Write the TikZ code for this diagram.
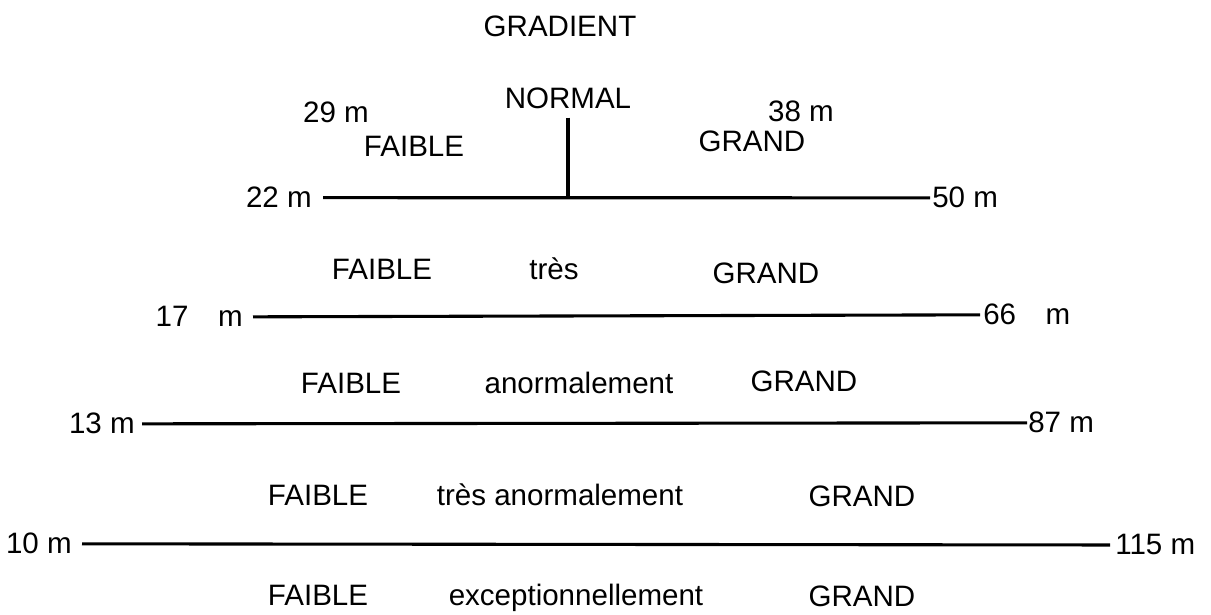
\documentclass[tikz,border=0pt]{standalone}
\usepackage{fontspec}
\setmainfont{Liberation Sans}
\usepackage{tikz}
\usetikzlibrary{positioning}
\usetikzlibrary{calc}
\tikzstyle{word} = [inner sep=0pt, font=\fontsize{21}{25}\selectfont]
\tikzstyle{word_l} = [word, anchor=base east]
\tikzstyle{word_r} = [word, anchor=base west]
\tikzstyle{bar} = [line width=2.2pt]

\begin{document}
\begin{tikzpicture}[x=0.025cm,y=-0.025cm]
    \useasboundingbox (0,0) rectangle (1211,615);
    % titre et gradient normal
    \node [word, anchor=base] (grad) at (560,37) {GRADIENT};
    \node [word, anchor=base] (normal) at (568,109) {NORMAL};
    \node [word, anchor=base] (m29) at (336,123) {29 m};
    \node [word, anchor=base] (m38) at (801,122) {38 m};
    \node [word, anchor=base] (f1) at (414,157) {FAIBLE};
    \node [word, anchor=base] (g1) at (752,152) {GRAND};
    \node [word_l] (l1) at (312,208) {22 m};
    \node [word_r] (r1) at (932,208) {50 m};
    % tres
    \node [word, anchor=base] (f2) at (382,280) {FAIBLE};
    \node [word, anchor=base] (q2) at (554,280) {très};
    \node [word, anchor=base] (g2) at (766,284) {GRAND};
    \node [word_l] (l2) at (243,327) {17\quad m};
    \node [word_r] (r2) at (983,325) {66\quad m};
    % anormalement
    \node [word, anchor=base] (f3) at (351,394) {FAIBLE};
    \node [word, anchor=base] (q3) at (579,394) {anormalement};
    \node [word, anchor=base] (g3) at (804,392) {GRAND};
    \node [word_l] (l3) at (135,434) {13 m};
    \node [word_r] (r3) at (1028,433) {87 m};
    % tres anormalement
    \node [word, anchor=base] (f4) at (318,506) {FAIBLE};
    \node [word, anchor=base] (q4) at (560,506) {très anormalement};
    \node [word, anchor=base] (g4) at (862,507) {GRAND};
    \node [word_l] (l4) at (72,554) {10 m};
    \node [word_r] (r4) at (1115,555) {115 m};
    % exceptionnellement
    \node [word, anchor=base] (f5) at (318,606) {FAIBLE};
    \node [word, anchor=base] (q5) at (576,606) {exceptionnellement};
    \node [word, anchor=base] (g5) at (862,607) {GRAND};

    \draw [bar] ($(l1.east)+(11,0)$) -- ($(r1.west)+(-2,0)$);
    \draw [bar] ($(normal.south)+(0,8)$) -- (normal |- l1.east);
    \draw [bar] ($(l2.east)+(10,0)$) -- ($(r2.west)+(-3,0)$);
    \draw [bar] ($(l3.east)+(7,0)$) -- ($(r3.west)+(-1,0)$);
    \draw [bar] ($(l4.east)+(10,0)$) -- ($(r4.west)+(-5,0)$);
\end{tikzpicture}
\end{document}
